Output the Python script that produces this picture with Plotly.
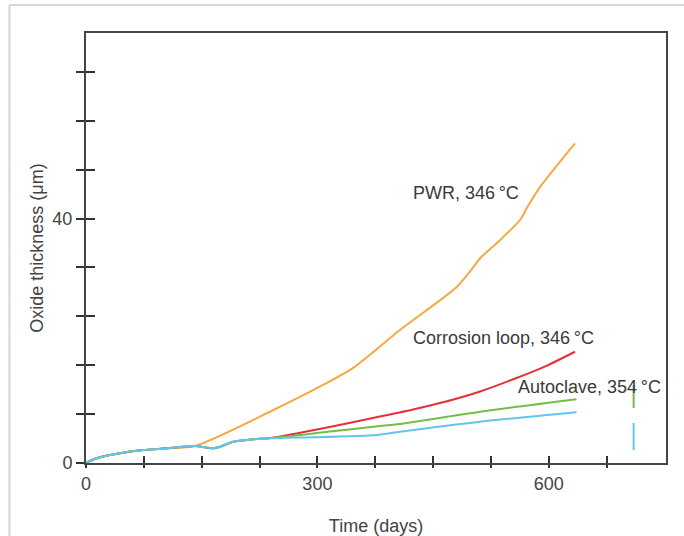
import plotly.graph_objects as go

# ---- data ----
pwr_days = [0, 3, 18, 44, 74, 105, 141, 243, 303, 347, 407, 442, 481, 502, 511, 537, 563, 571, 589, 634]
pwr_oxide = [0, 0.2, 0.93, 1.59, 2.13, 2.4, 2.78, 8.67, 12.48, 15.6, 21.76, 25.03, 28.85, 32.0, 33.49, 36.49, 39.8, 41.6, 45.21, 52.31]

loop_days = [0, 3, 18, 44, 74, 105, 141, 165, 174, 191, 217, 240, 316, 381, 424, 468, 511, 554, 597, 634]
loop_oxide = [0, 0.2, 0.93, 1.59, 2.13, 2.4, 2.78, 2.41, 2.67, 3.48, 3.88, 4.1, 5.9, 7.6, 8.75, 10.1, 11.7, 13.7, 15.9, 18.2]

auto_g_days = [0, 3, 18, 44, 74, 105, 141, 165, 174, 191, 217, 251, 316, 381, 407, 511, 636]
auto_g_oxide = [0, 0.2, 0.93, 1.59, 2.13, 2.4, 2.78, 2.41, 2.67, 3.48, 3.88, 4.2, 5.14, 6.05, 6.38, 8.39, 10.42]

auto_b_days = [0, 3, 18, 44, 74, 105, 141, 165, 174, 191, 217, 251, 294, 377, 407, 511, 636]
auto_b_oxide = [0, 0.2, 0.93, 1.59, 2.13, 2.4, 2.78, 2.41, 2.67, 3.48, 3.88, 4.1, 4.2, 4.58, 5.12, 6.76, 8.3]

range_day = [710, 710]
range_green = [9.0, 12.76]
range_blue = [2.13, 6.54]

labels = ["PWR, 346\u2009°C", "Corrosion loop, 346\u2009°C", "Autoclave, 354\u2009°C"]
label_x = [422, 422, 557]
label_y = [44.2, 20.45, 12.43]

x_tickvals = [0, 75, 150, 225, 300, 375, 450, 525, 600, 675]
x_ticktext = ["0", "", "", "", "300", "", "", "", "600", ""]
y_tickvals = [0, 8, 16, 24, 32, 40, 48, 56, 64]
y_ticktext = ["0", "", "", "", "", "40", "", "", ""]

X_RANGE = [0, 752]
Y_RANGE = [0, 70.35]

ORANGE = "#F5A843"
RED = "#E3303B"
GREEN = "#74BE45"
BLUE = "#62C6EA"
FONT = "Liberation Sans, Arial, sans-serif"

fig = go.Figure()
for d, o, c in [(pwr_days, pwr_oxide, ORANGE), (loop_days, loop_oxide, RED),
                (auto_g_days, auto_g_oxide, GREEN), (auto_b_days, auto_b_oxide, BLUE)]:
    fig.add_trace(go.Scatter(x=d, y=o, mode="lines",
                             line=dict(color=c, width=2, shape="spline", smoothing=0.7),
                             hoverinfo="skip", showlegend=False))
fig.add_trace(go.Scatter(x=range_day, y=range_green, mode="lines", hoverinfo="skip",
                         line=dict(color=GREEN, width=2), showlegend=False))
fig.add_trace(go.Scatter(x=range_day, y=range_blue, mode="lines", hoverinfo="skip",
                         line=dict(color=BLUE, width=2), showlegend=False))
# invisible trace on overlay axes (inside tick marks)
fig.add_trace(go.Scatter(x=[None], y=[None], xaxis="x2", yaxis="y2", showlegend=False))

for t, x, y in zip(labels, label_x, label_y):
    fig.add_annotation(x=x, y=y, text=t, showarrow=False, xanchor="left", yanchor="middle",
                       font=dict(size=18, color="#3a3a3a", family=FONT))

fig.update_layout(
    width=684, height=536,
    margin=dict(l=86, r=18, t=33, b=73, autoexpand=False),
    paper_bgcolor="white", plot_bgcolor="white",
    font=dict(family=FONT, size=18, color="#444444"),
    hovermode=False,
    xaxis=dict(range=X_RANGE, tickvals=x_tickvals, ticktext=x_ticktext, automargin=False,
               ticks="outside", ticklen=3, tickwidth=2, tickcolor="#333333",
               showgrid=False, zeroline=False, showline=True, linewidth=2,
               linecolor="#444444", mirror=True,
               title=dict(text="Time (days)", standoff=29, font=dict(size=18, color="#444444"))),
    yaxis=dict(range=Y_RANGE, tickvals=y_tickvals, ticktext=y_ticktext, automargin=False,
               ticks="outside", ticklen=8, tickwidth=2, tickcolor="#333333",
               showgrid=False, zeroline=False, showline=True, linewidth=2,
               linecolor="#444444", mirror=True,
               title=dict(text="Oxide thickness (μm)", standoff=4, font=dict(size=18, color="#444444"))),
    xaxis2=dict(range=X_RANGE, overlaying="x", anchor="y2", side="bottom", automargin=False,
                tickvals=x_tickvals, ticks="inside", ticklen=7, tickwidth=2,
                tickcolor="#333333", showticklabels=False, showgrid=False,
                zeroline=False, showline=False),
    yaxis2=dict(range=Y_RANGE, overlaying="y", anchor="x2", side="left", automargin=False,
                tickvals=y_tickvals, ticks="inside", ticklen=9, tickwidth=2,
                tickcolor="#333333", showticklabels=False, showgrid=False,
                zeroline=False, showline=False),
    shapes=[
        dict(type="line", xref="paper", yref="paper", x0=-0.132, x1=1.1, y0=1.065, y1=1.065,
             line=dict(color="#d6d6d6", width=2)),
        dict(type="line", xref="paper", yref="paper", x0=-0.132, x1=-0.132, y0=1.065, y1=-0.2,
             line=dict(color="#d6d6d6", width=2)),
    ],
)

fig.write_html("out.html", config={"displayModeBar": False, "staticPlot": True},
               post_script="document.body.style.margin='0';document.body.style.overflow='hidden';")
